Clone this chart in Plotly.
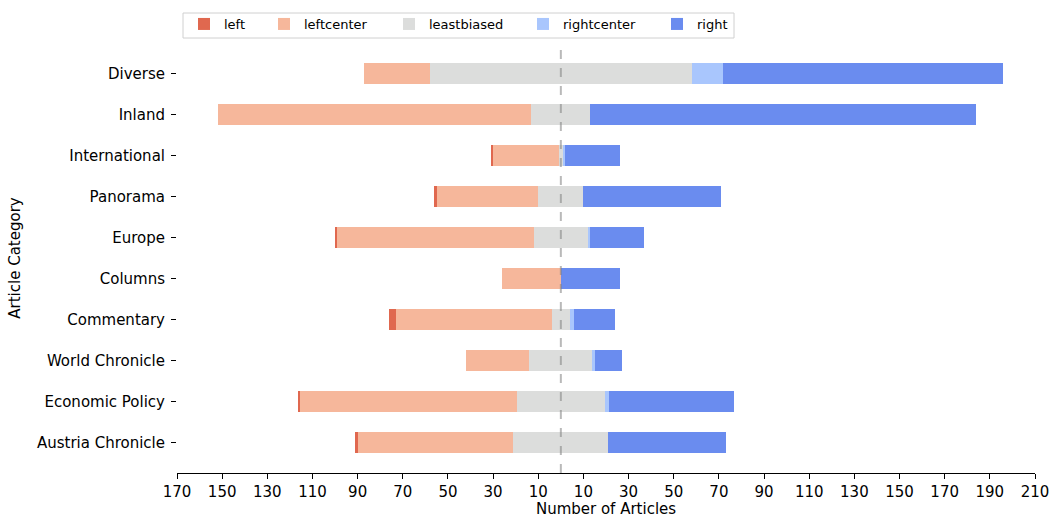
import plotly.graph_objects as go

categories = ["Austria Chronicle", "Economic Policy", "World Chronicle", "Commentary",
              "Columns", "Europe", "Panorama", "International", "Inland", "Diverse"]
left = [1, 1, 0, 3, 0, 1, 1, 1, 0, 0]
leftcenter = [69, 96, 28, 69, 26, 87, 45, 29, 139, 29]
leastbiased = [42, 39, 28, 8, 0, 24, 20, 2, 26, 116]
rightcenter = [0, 2, 1, 2, 0, 1, 0, 1, 0, 14]
right = [52, 55, 12, 18, 26, 24, 61, 24, 171, 124]

tick_vals = [-170, -150, -130, -110, -90, -70, -50, -30, -10,
             10, 30, 50, 70, 90, 110, 130, 150, 170, 190, 210]
tick_text = [str(abs(v)) for v in tick_vals]

colors = {
    "left": "#e0684f",
    "leftcenter": "#f6b79b",
    "leastbiased": "#dcdddc",
    "rightcenter": "#a9c6fd",
    "right": "#6a8cef",
}

W, H = 1050, 518
ML, MR, MT, MB = 177, 15, 43, 45
PW, PH = W - ML - MR, H - MT - MB
FONT = "DejaVu Sans"

# legend entry text start positions (pixels) from the reference
legend_names = ["left", "leftcenter", "leastbiased", "rightcenter", "right"]
legend_text_x = [224, 304, 429, 563, 697]
legend_ids = {n: ("legend" if i == 0 else f"legend{i + 1}") for i, n in enumerate(legend_names)}

fig = go.Figure()

def add(name, xs, show):
    fig.add_trace(go.Bar(
        y=categories, x=xs, orientation="h", name=name,
        marker=dict(color=colors[name], line=dict(width=0)),
        width=0.5, showlegend=show, legendgroup=name, legend=legend_ids[name],
    ))

# stacking order from zero outward (relative mode)
add("leastbiased", [-v / 2 for v in leastbiased], False)
add("leastbiased", [v / 2 for v in leastbiased], True)
add("leftcenter", [-v for v in leftcenter], True)
add("rightcenter", rightcenter, True)
add("left", [-v for v in left], True)
add("right", right, True)

fig.add_shape(type="line", xref="x", yref="paper", x0=0, x1=0, y0=0, y1=1,
              line=dict(color="rgba(128,128,128,0.55)", width=2, dash="dash"), layer="above")

# legend frame
fig.add_shape(type="rect", xref="paper", yref="paper",
              x0=(183 - ML) / PW, x1=(734 - ML) / PW,
              y0=(MT + PH - 38) / PH, y1=(MT + PH - 13) / PH,
              line=dict(color="#d0d0d0", width=1), fillcolor="rgba(255,255,255,0.8)",
              layer="below")

legend_common = dict(
    orientation="h", xref="container", yref="container",
    xanchor="left", yanchor="top", borderwidth=0, bgcolor="rgba(0,0,0,0)",
    font=dict(size=13, family=FONT), itemwidth=30,
)
legend_layout = {}
for i, n in enumerate(legend_names):
    legend_layout[legend_ids[n]] = dict(legend_common, x=(legend_text_x[i] - 40) / W, y=1 - 9 / H)

fig.update_layout(
    width=W, height=H,
    barmode="relative",
    bargap=0,
    plot_bgcolor="white", paper_bgcolor="white",
    margin=dict(l=ML, r=MR, t=MT, b=MB, autoexpand=False),
    font=dict(family=FONT, size=15, color="black"),
    xaxis=dict(
        range=[-170, 210], tickvals=tick_vals, ticktext=tick_text,
        showline=True, linecolor="black", linewidth=1, mirror=False,
        ticks="outside", ticklen=5, tickcolor="black", showgrid=False, zeroline=False,
        title=dict(text="Number of Articles", font=dict(size=15, family=FONT), standoff=14),
        tickfont=dict(size=15, family=FONT), automargin=False,
    ),
    yaxis=dict(
        categoryorder="array", categoryarray=categories, range=[-0.75, 9.75],
        showline=False, ticks="outside", ticklen=5, tickcolor="black", showgrid=False,
        zeroline=False, ticklabelstandoff=3,
        title=dict(text="Article Category", font=dict(size=15, family=FONT), standoff=12),
        tickfont=dict(size=15, family=FONT), automargin=False,
    ),
    **legend_layout,
)

fig.write_html("out.html", config={"displayModeBar": False},
               post_script="document.body.style.margin='0';")
